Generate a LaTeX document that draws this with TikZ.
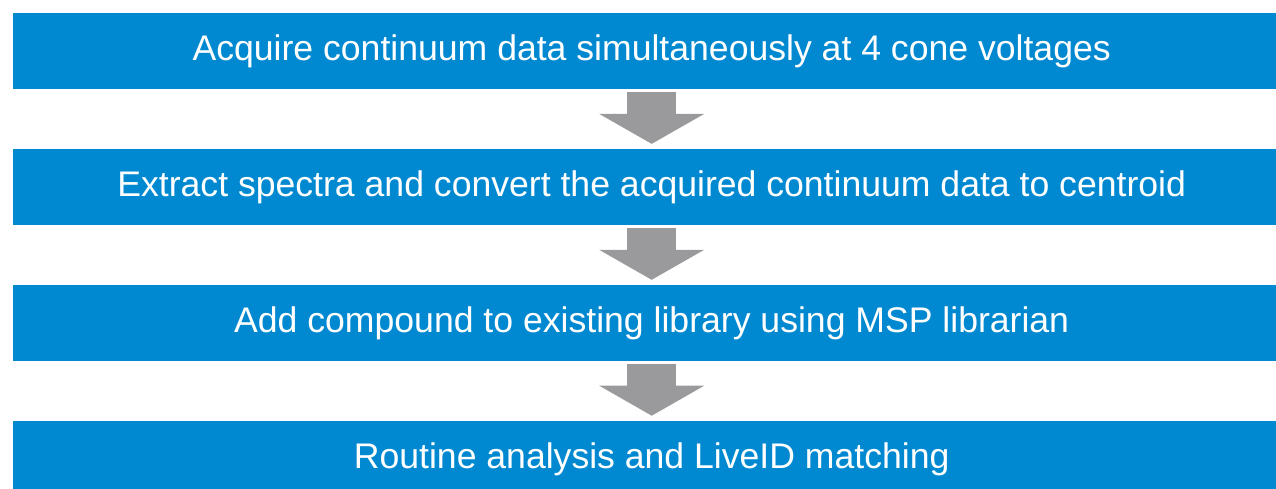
\documentclass[tikz,border=0pt]{standalone}
\usepackage{fontspec}
\setmainfont{Liberation Sans}
\usetikzlibrary{arrows.meta,positioning}
\definecolor{stageblue}{RGB}{0,137,208}
\definecolor{flowgray}{RGB}{154,154,156}
\begin{document}
\begin{tikzpicture}[x=1pt,y=1pt,node distance=59.5pt]
  \tikzstyle{stage}=[fill=stageblue,text=white,minimum width=1277pt,minimum height=76pt,inner sep=0pt,font=\fontsize{35.6}{40}\selectfont]
  \tikzstyle{flow}=[draw=flowgray,line width=49pt,shorten <=3pt,shorten >=5pt,-{Triangle[width=105pt,length=30pt,line width=0pt]}]
  \clip (0,0) rectangle (1276,-489);
  \node[stage,anchor=north west] (acq) at (13,-13) {Acquire continuum data simultaneously at 4 cone voltages};
  \node[stage,below=of acq] (ext) {Extract spectra and convert the acquired continuum data to centroid};
  \node[stage,below=of ext] (lib) {Add compound to existing library using MSP librarian};
  \node[stage,below=of lib] (rout) {Routine analysis and LiveID matching};
  \draw[flow] (acq) -- (ext);
  \draw[flow] (ext) -- (lib);
  \draw[flow] (lib) -- (rout);
\end{tikzpicture}
\end{document}
